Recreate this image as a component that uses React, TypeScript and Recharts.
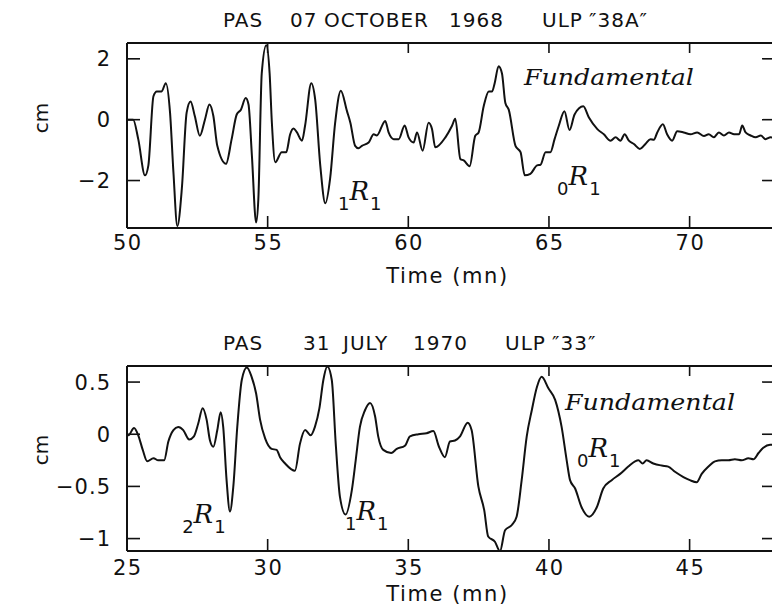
import React from 'react';
import { LineChart, Line, XAxis, YAxis, ReferenceDot } from 'recharts';

// ---------- Panel 1 : PAS 07 OCTOBER 1968 ----------
const topTime = [
  50.0, 50.22, 50.4, 50.64, 50.76, 50.94, 51.06, 51.23, 51.38, 51.53, 51.65, 51.79, 51.95,
  52.12, 52.26, 52.41, 52.59, 52.77, 52.93, 53.07, 53.21, 53.52, 53.72, 53.9, 54.05, 54.22,
  54.32, 54.44, 54.59, 54.67, 54.79, 54.95, 55.07, 55.15, 55.27, 55.5, 55.66, 55.8, 55.92,
  56.03, 56.22, 56.33, 56.55, 56.69, 56.87, 57.05, 57.22, 57.4, 57.6, 57.82, 57.94, 58.11,
  58.23, 58.35, 58.59, 58.77, 58.88, 59.18, 59.3, 59.48, 59.66, 59.87, 60.01, 60.19, 60.31,
  60.51, 60.72, 60.84, 60.96, 61.32, 61.55, 61.67, 61.85, 61.97, 62.18, 62.38, 62.5, 62.68,
  62.86, 62.98, 63.07, 63.21, 63.33, 63.45, 63.57, 63.81, 63.99, 64.14, 64.34, 64.58, 64.7,
  64.88, 65.05, 65.2, 65.35, 65.55, 65.73, 65.91, 66.22, 66.42, 66.72, 66.95, 67.19, 67.37,
  67.54, 67.69, 67.84, 68.02, 68.23, 68.43, 68.61, 68.73, 68.85, 69.05, 69.2, 69.38, 69.56,
  69.79, 70.03, 70.27, 70.51, 70.68, 70.86, 71.04, 71.22, 71.4, 71.58, 71.76, 71.87, 71.99,
  72.17, 72.35, 72.53, 72.7, 72.88, 73.0,
];
const topAmp = [
  0.0, 0.0, -0.64, -1.83, -1.5, 0.77, 0.93, 0.93, 1.2, 0.23, -1.72, -3.5, -2.26,
  0.23, 0.6, 0.12, -0.53, 0.0, 0.5, 0.12, -0.86, -1.45, -0.64, 0.17, 0.33, 0.71,
  0.5, -1.18, -3.38, -2.59, 1.52, 2.45, 1.52, -0.1, -1.4, -1.07, -1.07, -0.48, -0.29,
  -0.4, -0.69, -0.2, 1.2, 0.66, -1.5, -2.75, -1.94, -0.1, 0.95, 0.28, -0.1, -0.86,
  -0.94, -0.86, -0.75, -0.48, -0.52, -0.04, -0.42, -0.64, -0.64, -0.19, -0.58, -0.75, -0.42,
  -1.02, -0.1, -0.3, -0.91, -0.58, -0.21, 0.03, -1.29, -1.34, -1.53, -0.53, -0.42, 0.44,
  0.93, 0.93, 1.2, 1.76, 1.52, 0.55, 0.33, -0.86, -1.07, -1.83, -1.78, -1.5, -1.48,
  -1.07, -1.07, -0.64, -0.2, 0.28, -0.34, 0.17, 0.44, 0.07, -0.31, -0.48, -0.69, -0.58,
  -0.69, -0.48, -0.69, -0.8, -0.96, -0.8, -0.64, -0.66, -0.42, -0.15, -0.48, -0.69, -0.38,
  -0.42, -0.48, -0.42, -0.54, -0.48, -0.58, -0.42, -0.52, -0.42, -0.48, -0.48, -0.19, -0.42,
  -0.52, -0.58, -0.52, -0.64, -0.58, -0.6,
];
const topXTicks = [50, 55, 60, 65, 70];
const topYTicks = [-2, 0, 2];
const topXDomain = [50, 73];
const topYDomain = [-3.56, 2.52];
const topTitle = ['PAS', '07', 'OCTOBER', '1968', 'ULP', '\u203338A\u2033'];
const topNotes = ['1', '0', 'Fundamental'];
const topNoteX = [57.5, 65.29, 64.11];
const topNoteY = [-2.64, -2.15, 1.14];

// ---------- Panel 2 : PAS 31 JULY 1970 ----------
const bottomTime = [
  25.0, 25.05, 25.25, 25.4, 25.56, 25.72, 25.94, 26.11, 26.32, 26.47, 26.65, 26.82, 27.0,
  27.21, 27.38, 27.53, 27.69, 27.83, 27.95, 28.07, 28.21, 28.33, 28.42, 28.54, 28.66, 28.78,
  28.92, 29.08, 29.26, 29.43, 29.59, 29.73, 29.91, 30.14, 30.32, 30.44, 30.62, 30.97, 31.15,
  31.33, 31.53, 31.68, 31.84, 31.98, 32.12, 32.28, 32.42, 32.57, 32.77, 32.99, 33.13, 33.28,
  33.46, 33.64, 33.82, 33.93, 34.11, 34.39, 34.59, 34.88, 35.06, 35.36, 35.65, 35.89, 36.09,
  36.3, 36.48, 36.66, 36.84, 37.11, 37.25, 37.49, 37.7, 37.84, 38.08, 38.26, 38.44, 38.68,
  38.85, 39.03, 39.21, 39.39, 39.57, 39.74, 39.98, 40.22, 40.45, 40.63, 40.75, 40.93, 41.16,
  41.43, 41.7, 41.93, 42.23, 42.53, 42.82, 43.06, 43.18, 43.33, 43.47, 43.71, 44.01, 44.24,
  44.48, 44.78, 45.01, 45.25, 45.43, 45.67, 45.9, 46.14, 46.38, 46.61, 46.85, 47.09, 47.27,
  47.45, 47.62, 47.86, 48.0,
];
const bottomAmp = [
  0.0, -0.01, 0.06, -0.01, -0.15, -0.26, -0.23, -0.25, -0.25, -0.07, 0.04, 0.07, 0.04,
  -0.05, -0.02, 0.1, 0.25, 0.14, -0.06, -0.12, 0.04, 0.21, 0.07, -0.44, -0.74, -0.5,
  0.07, 0.52, 0.64, 0.55, 0.39, 0.14, -0.04, -0.14, -0.15, -0.22, -0.28, -0.35, -0.09,
  0.04, -0.01, 0.07, 0.25, 0.52, 0.65, 0.52, -0.09, -0.6, -0.77, -0.54, -0.25, 0.07,
  0.23, 0.3, 0.17, -0.02, -0.15, -0.18, -0.14, -0.11, -0.02, 0.0, 0.01, 0.03, -0.12,
  -0.22, -0.07, -0.06, -0.02, 0.11, 0.04, -0.5, -0.73, -0.98, -1.03, -1.12, -0.92, -0.87,
  -0.79, -0.44, -0.02, 0.23, 0.45, 0.55, 0.44, 0.33, 0.07, -0.25, -0.44, -0.52, -0.7,
  -0.79, -0.7, -0.52, -0.44, -0.38, -0.31, -0.26, -0.25, -0.28, -0.25, -0.28, -0.3, -0.31,
  -0.36, -0.41, -0.44, -0.46, -0.38, -0.31, -0.26, -0.25, -0.25, -0.24, -0.25, -0.23, -0.24,
  -0.18, -0.13, -0.1, -0.1,
];
const bottomXTicks = [25, 30, 35, 40, 45];
const bottomYTicks = [-1, -0.5, 0, 0.5];
const bottomXDomain = [25, 48];
const bottomYDomain = [-1.119, 0.654];
const bottomTitle = ['PAS', '31', 'JULY', '1970', 'ULP', '\u203333\u2033'];
const bottomNotes = ['2', '1', 'Fundamental', '0'];
const bottomNoteX = [26.96, 32.75, 40.57, 41.0];
const bottomNoteY = [-0.853, -0.824, 0.231, -0.22];

const SANS = '"DejaVu Sans", Verdana, sans-serif';
const SERIF = '"DejaVu Serif", serif';
const INK = '#111';

const fmt = (v: number) => String(v).replace('-', '\u2212');

const XTickBottom = (props: any) => {
  const { x, y, payload, dy } = props;
  return (
    <g>
      <line x1={x} x2={x} y1={y} y2={y - 12} stroke={INK} strokeWidth={1.6} />
      <text x={x + 0.8} y={y + dy} textAnchor="middle" fontFamily={SANS} fontSize={21} letterSpacing={1.5} fill={INK}>
        {fmt(payload.value)}
      </text>
    </g>
  );
};
const XTickTop = (props: any) => {
  const { x, y } = props;
  return <line x1={x} x2={x} y1={y} y2={y + 10} stroke={INK} strokeWidth={1.6} />;
};
const YTickLeft = (props: any) => {
  const { x, y, payload } = props;
  return (
    <g>
      <line x1={x} x2={x + 13} y1={y} y2={y} stroke={INK} strokeWidth={1.6} />
      <text x={x - 16} y={y} dy="0.36em" textAnchor="end" fontFamily={SANS} fontSize={21} letterSpacing={1} fill={INK}>
        {fmt(payload.value)}
      </text>
    </g>
  );
};
const YTickRight = (props: any) => {
  const { x, y } = props;
  return <line x1={x} x2={x - 12} y1={y} y2={y} stroke={INK} strokeWidth={1.6} />;
};

const NoteShape = (props: any) => {
  const { cx, cy, note } = props;
  if (cx == null || cy == null) return <g />;
  if (note === 'Fundamental') {
    return (
      <text x={cx} y={cy} fontFamily={SERIF} fontStyle="italic" fontSize={23} fill={INK} textLength={170} lengthAdjust="spacingAndGlyphs">
        Fundamental
      </text>
    );
  }
  return (
    <text x={cx} y={cy} fill={INK}>
      <tspan fontFamily={SANS} fontSize={18} dy={10}>{note}</tspan>
      <tspan fontFamily={SERIF} fontStyle="italic" fontSize={26} dy={-10} dx={0}>R</tspan>
      <tspan fontFamily={SANS} fontSize={18} dy={10} dx={1}>1</tspan>
    </text>
  );
};

type PanelProps = {
  time: number[];
  amp: number[];
  xDomain: number[];
  yDomain: number[];
  xTicks: number[];
  yTicks: number[];
  title: string[];
  titleOffsets: number[];
  notes: string[];
  noteX: number[];
  noteY: number[];
  tickDy: number;
  labelDy: number;
  cmDy: number;
};

const Panel = (p: PanelProps) => {
  const data = p.time.map((t, i) => ({ t, v: p.amp[i] }));
  return (
    <LineChart width={776} height={300} data={data} margin={{ top: 42, right: 1, bottom: 71, left: 126 }}>
      <XAxis
        dataKey="t"
        type="number"
        domain={p.xDomain}
        allowDataOverflow
        ticks={p.xTicks}
        interval={0}
        height={1}
        tickSize={0}
        tickMargin={0}
        axisLine={{ stroke: INK, strokeWidth: 2 }}
        tick={<XTickBottom dy={p.tickDy} />}
        label={{
          content: (lp: any) => {
            const vb = lp.viewBox || {};
            return (
              <text x={vb.x + vb.width / 2 - 3} y={vb.y + p.labelDy} textAnchor="middle" fontFamily={SANS} fontSize={21} letterSpacing={1.6} fill={INK}>
                Time (mn)
              </text>
            );
          },
        }}
      />
      <XAxis
        xAxisId="top"
        orientation="top"
        dataKey="t"
        type="number"
        domain={p.xDomain}
        allowDataOverflow
        ticks={p.xTicks}
        interval={0}
        height={1}
        tickSize={0}
        tickMargin={0}
        axisLine={{ stroke: INK, strokeWidth: 2 }}
        tick={<XTickTop />}
        label={{
          content: (lp: any) => {
            const vb = lp.viewBox || {};
            return (
              <text y={vb.y + 1 - 16} fontFamily={SANS} fontSize={20} letterSpacing={1} fill={INK}>
                {p.title.map((s, i) => (
                  <tspan key={i} x={vb.x + p.titleOffsets[i]}>{s}</tspan>
                ))}
              </text>
            );
          },
        }}
      />
      <YAxis
        type="number"
        domain={p.yDomain}
        allowDataOverflow
        ticks={p.yTicks}
        interval={0}
        width={1}
        tickSize={0}
        tickMargin={0}
        axisLine={{ stroke: INK, strokeWidth: 2 }}
        tick={<YTickLeft />}
        label={{
          content: (lp: any) => {
            const vb = lp.viewBox || {};
            const cx = vb.x + 1 - 86;
            const cy = vb.y + p.cmDy;
            return (
              <text x={cx} y={cy} transform={`rotate(-90 ${cx} ${cy})`} textAnchor="middle" dy="0.35em" fontFamily={SANS} fontSize={20} fill={INK}>
                cm
              </text>
            );
          },
        }}
      />
      <YAxis
        yAxisId="right"
        orientation="right"
        type="number"
        domain={p.yDomain}
        allowDataOverflow
        ticks={p.yTicks}
        interval={0}
        width={1}
        tickSize={0}
        tickMargin={0}
        axisLine={false}
        tick={<YTickRight />}
      />
      <Line type="monotone" dataKey="v" stroke={INK} strokeWidth={2} dot={false} isAnimationActive={false} />
      {p.notes.map((n, i) => (
        <ReferenceDot
          key={i}
          x={p.noteX[i]}
          y={p.noteY[i]}
          r={0}
          ifOverflow="visible"
          shape={(sp: any) => <NoteShape {...sp} note={n} />}
        />
      ))}
    </LineChart>
  );
};

export default function App() {
  return (
    <div style={{ position: 'absolute', left: 0, top: 0, width: 772, height: 612, overflow: 'hidden', background: '#fff' }}>
      <div style={{ position: 'absolute', left: 0, top: 0 }}>
        <Panel
          time={topTime}
          amp={topAmp}
          xDomain={topXDomain}
          yDomain={topYDomain}
          xTicks={topXTicks}
          yTicks={topYTicks}
          title={topTitle}
          titleOffsets={[96, 163, 197, 322, 415, 462]}
          notes={topNotes}
          noteX={topNoteX}
          noteY={topNoteY}
          tickDy={22}
          labelDy={55}
          cmDy={75}
        />
      </div>
      <div style={{ position: 'absolute', left: 0, top: 323 }}>
        <Panel
          time={bottomTime}
          amp={bottomAmp}
          xDomain={bottomXDomain}
          yDomain={bottomYDomain}
          xTicks={bottomXTicks}
          yTicks={bottomYTicks}
          title={bottomTitle}
          titleOffsets={[96, 176, 216, 286, 378, 425]}
          notes={bottomNotes}
          noteX={bottomNoteX}
          noteY={bottomNoteY}
          tickDy={24}
          labelDy={50}
          cmDy={84}
        />
      </div>
    </div>
  );
}
